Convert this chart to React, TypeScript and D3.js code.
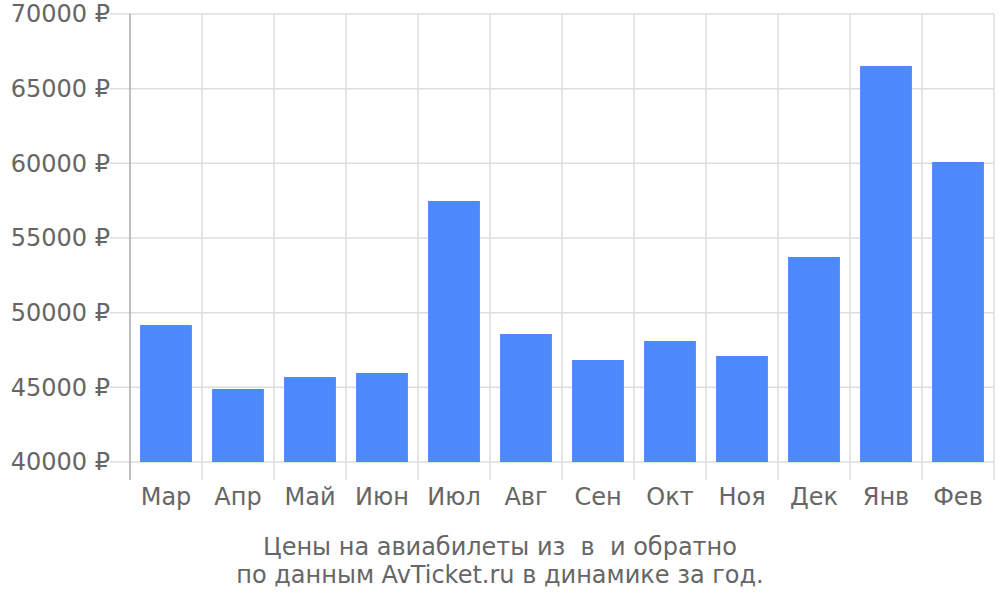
import { useEffect, useRef } from 'react';
import * as d3 from 'd3';

const months = ['Мар', 'Апр', 'Май', 'Июн', 'Июл', 'Авг', 'Сен', 'Окт', 'Ноя', 'Дек', 'Янв', 'Фев'];
const prices = [49170, 44890, 45690, 45960, 57480, 48570, 46830, 48100, 47100, 53730, 66520, 60090];
const yTicks = [40000, 45000, 50000, 55000, 60000, 65000, 70000];
const titleLines = ['Цены на авиабилеты из  в  и обратно', 'по данным AvTicket.ru в динамике за год.'];

export default function App() {
  const ref = useRef<SVGSVGElement | null>(null);

  useEffect(() => {
    if (!ref.current) return;
    const svg = d3.select(ref.current);
    svg.selectAll('*').remove();

    const margin = { top: 14, right: 6, bottom: 138, left: 130 };
    const width = 1000;
    const height = 600;
    const innerW = width - margin.left - margin.right;
    const innerH = height - margin.top - margin.bottom;
    const font = '"DejaVu Sans", sans-serif';
    const textColor = '#666';
    const gridColor = '#dddddd';

    const x = d3.scaleBand<string>()
      .domain(months)
      .range([0, innerW])
      .paddingInner(0.28)
      .paddingOuter(0.14);
    const step = x.step();

    const y = d3.scaleLinear()
      .domain([40000, 70000])
      .range([innerH, 0]);

    const g = svg.append('g').attr('transform', `translate(${margin.left},${margin.top})`);

    // horizontal grid
    g.selectAll('.hgrid')
      .data(yTicks)
      .enter().append('line')
      .attr('x1', -20)
      .attr('x2', innerW)
      .attr('y1', d => y(d))
      .attr('y2', d => y(d))
      .attr('stroke', gridColor)
      .attr('stroke-width', 1.5);

    // vertical grid at band edges
    const edges = d3.range(months.length + 1).map(i => i * step);
    g.selectAll('.vgrid')
      .data(edges.slice(1))
      .enter().append('line')
      .attr('x1', d => d)
      .attr('x2', d => d)
      .attr('y1', 0)
      .attr('y2', innerH + 18)
      .attr('stroke', gridColor)
      .attr('stroke-width', 1.5);

    // y axis line
    g.append('line')
      .attr('x1', 0).attr('x2', 0)
      .attr('y1', 0).attr('y2', innerH + 18)
      .attr('stroke', '#aaaaaa')
      .attr('stroke-width', 1.5);

    // bars
    g.selectAll('.bar')
      .data(prices)
      .enter().append('rect')
      .attr('x', (_, i) => x(months[i])!)
      .attr('width', x.bandwidth())
      .attr('y', d => y(d))
      .attr('height', d => innerH - y(d))
      .attr('fill', '#4d89fa');

    // y labels
    g.selectAll('.ylab')
      .data(yTicks)
      .enter().append('text')
      .attr('x', -20)
      .attr('y', d => y(d))
      .attr('dy', '0.35em')
      .attr('text-anchor', 'end')
      .attr('font-family', font)
      .attr('font-size', 24)
      .attr('fill', textColor)
      .text(d => `${d} ₽`);

    // x labels
    g.selectAll('.xlab')
      .data(months)
      .enter().append('text')
      .attr('x', d => x(d)! + x.bandwidth() / 2)
      .attr('y', innerH + 43)
      .attr('text-anchor', 'middle')
      .attr('font-family', font)
      .attr('font-size', 24)
      .attr('fill', textColor)
      .text(d => d);

    // title
    svg.selectAll('.title')
      .data(titleLines)
      .enter().append('text')
      .attr('x', 500)
      .attr('y', (_, i) => 555 + i * 28)
      .attr('text-anchor', 'middle')
      .attr('font-family', font)
      .attr('font-size', 24)
      .attr('fill', textColor)
      .style('white-space', 'pre')
      .text(d => d);
  }, []);

  return (
    <svg
      ref={ref}
      width={1000}
      height={600}
      style={{ position: 'absolute', left: 0, top: 0, background: '#fff' }}
    />
  );
}
